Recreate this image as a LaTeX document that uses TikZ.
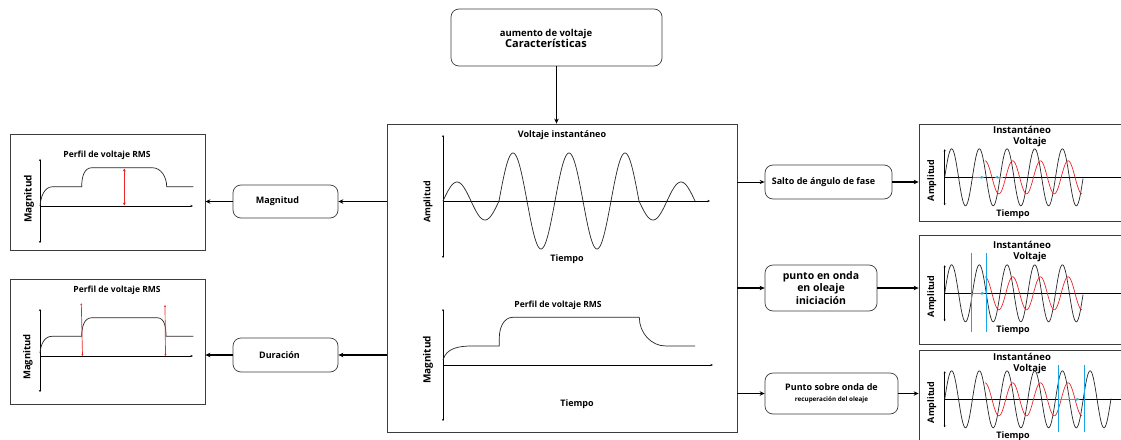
\documentclass[tikz,border=0pt]{standalone}
\usepackage{fontspec}
\setmainfont{Open Sans}
\usetikzlibrary{arrows.meta}
\definecolor{rojo}{RGB}{232,40,40}
\definecolor{azul}{RGB}{25,165,230}
\definecolor{borde}{RGB}{60,60,60}

\begin{document}
\begin{tikzpicture}[x=1pt, y=-1pt,
    caja/.style={draw=borde, rounded corners=8pt, line width=0.7pt, align=center,
      font=\bfseries\fontsize{9}{11.5}\selectfont},
    panel/.style={draw=borde, line width=0.8pt},
    lbl/.style={font=\bfseries\fontsize{9}{10.5}\selectfont, inner sep=1pt},
    titulo/.style={font=\bfseries\fontsize{8.5}{10}\selectfont, inner sep=1pt},
    eje/.style={line width=0.6pt, {Stealth[length=2pt,width=2pt]}-{Stealth[length=2pt,width=2pt]}},
    ejex/.style={line width=0.6pt, -{Stealth[length=2.5pt,width=2pt]}},
    flecha/.style={line width=1.8pt, -{Stealth[length=5pt,width=4.5pt]}},
    flechita/.style={line width=0.8pt, -{Stealth[length=5pt,width=4pt]}},
    onda/.style={line width=0.7pt, black!85},
    fase/.style={line width=0.7pt, rojo},
    marca/.style={line width=1pt, azul}]

  \clip (0,0) rectangle (1121,439);
  \fill[white] (0,0) rectangle (1121,439);

  % cajas
  \node[caja, minimum width=211pt, minimum height=57pt] (caract) at (556.5,37.5) {};
  \node[align=center, inner sep=0pt] (caracttxt) at (546,38)
    {\bfseries\fontsize{9.5}{12}\selectfont aumento de voltaje\\[-1pt]
     \bfseries\fontsize{11}{13}\selectfont Características};
  \node[panel, minimum width=350pt, minimum height=308pt] (centro) at (562,278) {};
  \node[panel, minimum width=195pt, minimum height=116pt] (perfilA) at (107.5,192) {};
  \node[panel, minimum width=195pt, minimum height=125pt] (perfilB) at (107.5,341.5) {};
  \node[panel, minimum width=220pt, minimum height=97pt] (ondaA) at (1029,172.5) {};
  \node[panel, minimum width=220pt, minimum height=109pt] (ondaB) at (1029,289.5) {};
  \node[panel, minimum width=220pt, minimum height=102pt] (ondaC) at (1029,401) {};
  \node[caja, minimum width=105pt, minimum height=33pt] (magn) at (285.5,201.5) {Magnitud\hspace*{16pt}};
  \node[caja, minimum width=105pt, minimum height=34pt] (durac) at (285.5,355) {Duración\hspace*{12pt}};
  \node[caja, minimum width=127pt, minimum height=34pt] (salto) at (828.5,182) {Salto de ángulo de fase\hspace*{10pt}};
  \node[caja, minimum width=112pt, minimum height=46pt,
        font=\bfseries\fontsize{10.5}{12.5}\selectfont] (inicio) at (821,288)
    {punto en onda\\ en oleaje\\ iniciación};
  \node[caja, minimum width=133pt, minimum height=41pt] (recup) at (831.5,393.5)
    {Punto sobre onda de\\ {\fontsize{6.3}{8}\selectfont recuperación del oleaje}};

  % flechas
  \draw[flecha] (caract.south) -- (caract.south |- centro.north);
  \draw[flecha] (centro.west |- magn) -- (magn);
  \draw[flecha] (magn) -- (magn -| perfilA.east);
  \draw[flecha] (centro.west |- durac) -- (durac);
  \draw[flecha] (durac) -- (durac -| perfilB.east);
  \draw[flechita] (centro.east |- salto) -- (salto);
  \draw[flecha] (salto) -- (salto -| ondaA.west);
  \draw[flecha] (centro.east |- inicio) -- (inicio);
  \draw[flecha] (inicio) -- (inicio -| ondaB.west);
  \draw[flecha] (centro.east |- recup) -- (recup);
  \draw[flecha] (recup) -- (recup -| ondaC.west);

  % voltaje instantaneo
  \draw[eje] (443,135) -- (443,258);
  \draw[ejex] (443,201) -- (710,201);
  \node[lbl] (vinst) at (562,135) {Voltaje instantáneo};
  \node[lbl] (tiempoA) at (567,259) {Tiempo};
  \node[lbl, rotate=90] (amplA) at (428,202) {Amplitud};
  \foreach \a [count=\i from 0] in {19,-19,48,-48,48,-48,48,-19,19}
    \draw[onda] plot[domain=0:180, samples=30] ({443+28*\i+\x*28/180},{201-\a*sin(\x)});

  % perfil RMS central
  \draw[eje] (443,309) -- (443,421);
  \draw[ejex] (443,365) -- (713,365);
  \node[titulo] (rmsC) at (558,305) {Perfil de voltaje RMS};
  \node[lbl] (tiempoB) at (577,404) {Tiempo};
  \node[lbl, rotate=90, font=\bfseries\fontsize{10}{12}\selectfont] (magC) at (428,360) {Magnitud};
  \draw[onda] (443,360) to[out=75,in=180] (472,346) -- (499.3,346) -- (499.3,338)
    to[out=90,in=180] (513,317.3) -- (639.3,317.3) to[out=-90,in=180] (666,346) -- (695,346);

  % magnitud
  \draw[eje] (40,159) -- (40,243);
  \draw[ejex] (40,206) -- (193,206);
  \node[titulo] (rmsA) at (107,155) {Perfil de voltaje RMS};
  \node[lbl, rotate=90, font=\bfseries\fontsize{10}{12}\selectfont] (magA) at (29,199) {Magnitud};
  \draw[onda] (40,206) to[out=85,in=180] (53,186.7) -- (81.7,186.7)
    to[out=90,in=180] (92,167.7) -- (152,167.7) to[out=0,in=90] (166.7,186.7) -- (193.3,186.7);
  \draw[rojo, line width=1.3pt, {Stealth[length=3pt,width=3pt]}-{Stealth[length=3pt,width=3pt]}]
    (124.3,168.5) -- (124.3,205.5);

  % duracion
  \draw[eje] (40,309) -- (40,392);
  \draw[ejex] (40,356) -- (193,356);
  \node[titulo] (rmsB) at (117,290) {Perfil de voltaje RMS};
  \node[lbl, rotate=90, font=\bfseries\fontsize{9.5}{12}\selectfont] (magB) at (28,357) {Magnitud};
  \draw[onda] (40,353) to[out=85,in=180] (52,336.3) -- (81.7,336.3)
    to[out=90,in=180] (92,317.7) -- (157,317.7) to[out=0,in=90] (166,336.3) -- (193.3,336.3);
  \draw[rojo, line width=0.7pt, {Stealth[length=2pt,width=2pt]}-{Stealth[length=2pt,width=2pt]}]
    (82.5,356) -- (81.3,303.3);
  \draw[rojo, line width=0.7pt, {Stealth[length=2pt,width=2pt]}-{Stealth[length=2pt,width=2pt]}]
    (165.5,356) -- (165,305);

  % ondas de la derecha
  \foreach \ejey/\tit/\fin [count=\k] in {177.3/130/1083, 293.3/245/1083, 399.3/356.7/1111}{
    \draw[eje] (944.7,{\ejey-28}) -- (944.7,{\ejey+28});
    \draw[line width=0.6pt] (944.7,\ejey) -- (1125,\ejey);
    \node[lbl, font=\bfseries\fontsize{9.5}{11}\selectfont] (inst\k) at (1022,\tit) {Instantáneo};
    \node[lbl, font=\bfseries\fontsize{9.5}{11}\selectfont] (volt\k) at (1030,{\tit+12.5}) {Voltaje};
    \node[lbl, rotate=90] (ampl\k) at (931.7,{\ejey+3}) {Amplitud};
    \node[lbl] (tiem\k) at (1013,{\ejey+37}) {Tiempo};
    \draw[onda] plot[domain=944.7:\fin, samples=200] (\x,{\ejey-28.5*sin(12.996*(\x-944.7))});
    \draw[fase] plot[domain=985:1082, samples=140] (\x,{\ejey-16.5*cos(12.996*(\x-985))});
  }

  % marcas azules
  \draw[marca, -{Stealth[length=4pt,width=3pt]}] (972.7,177.3) -- (984.5,177.3);
  \draw[marca, -{Stealth[length=4pt,width=3pt]}] (1003.3,177.3) -- (994.5,177.3);
  \draw[marca] (971.5,253.3) -- (971.5,331.7);
  \draw[marca] (986.5,253.3) -- (986.5,331.7);
  \draw[marca, -{Stealth[length=4pt,width=3pt]}] (971.5,293.3) -- (985,293.3);
  \draw[marca] (1058.5,365) -- (1058.5,431.7);
  \draw[marca] (1084.5,365) -- (1084.5,431.7);
  \draw[marca, -{Stealth[length=4pt,width=3pt]}] (1058.5,399.3) -- (1080,399.3);
\end{tikzpicture}
\end{document}
